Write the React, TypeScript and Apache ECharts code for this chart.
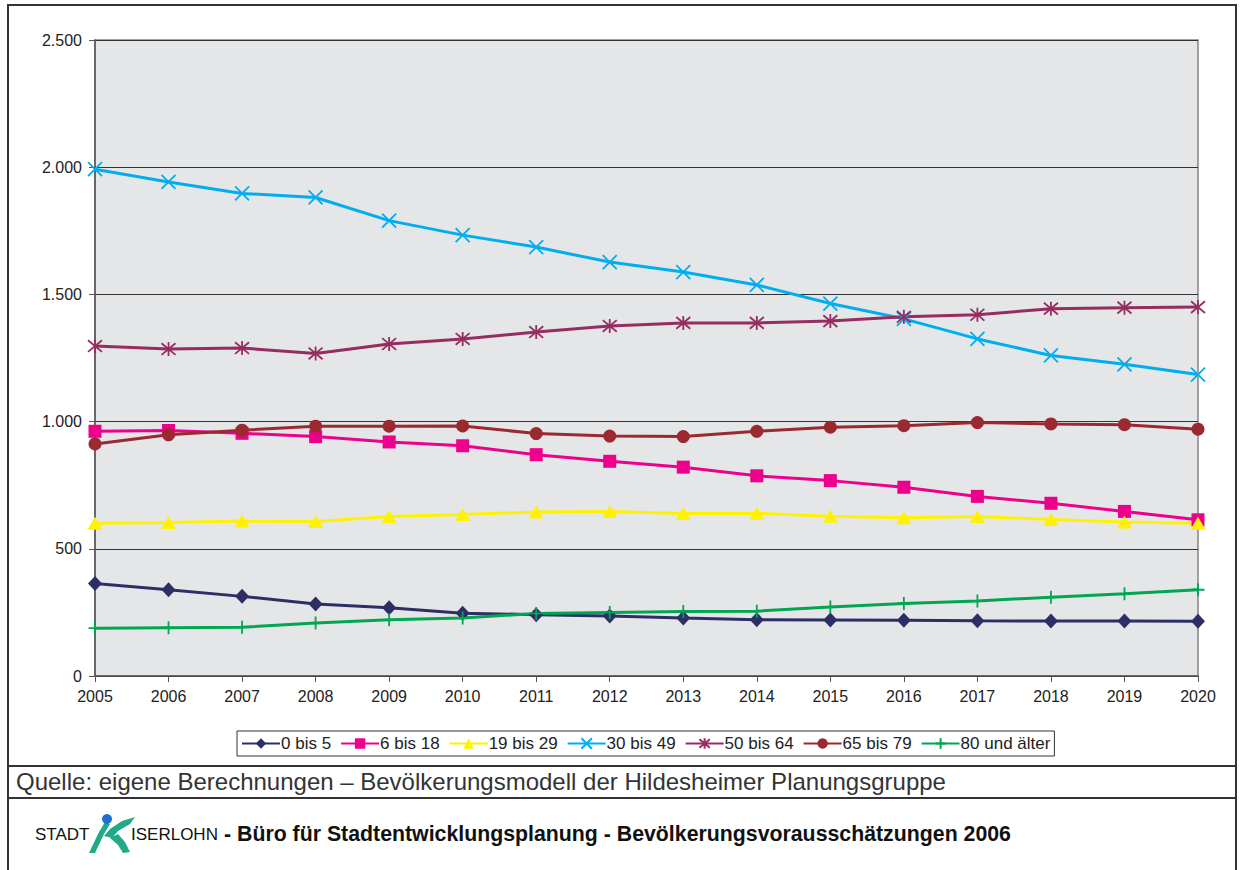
import React, { useEffect, useRef } from "react";
import * as echarts from "echarts";

const years = ["2005","2006","2007","2008","2009","2010","2011","2012","2013","2014","2015","2016","2017","2018","2019","2020"];
const age0to5 = [364, 339, 313, 283, 268, 247, 241, 236, 228, 221, 220, 219, 217, 216, 216, 215];
const age6to18 = [962, 965, 954, 941, 920, 905, 870, 844, 821, 787, 768, 742, 706, 679, 647, 614];
const age19to29 = [600, 603, 609, 607, 627, 635, 645, 647, 639, 640, 628, 622, 627, 615, 605, 600];
const age30to49 = [1992, 1942, 1897, 1881, 1790, 1733, 1686, 1627, 1588, 1537, 1464, 1404, 1325, 1260, 1225, 1185];
const age50to64 = [1297, 1285, 1289, 1268, 1305, 1325, 1352, 1376, 1388, 1388, 1395, 1412, 1420, 1444, 1448, 1450];
const age65to79 = [912, 948, 966, 982, 982, 983, 953, 943, 941, 962, 978, 984, 996, 991, 988, 970];
const age80plus = [188, 190, 192, 208, 221, 228, 246, 250, 254, 255, 271, 285, 295, 310, 323, 339];
const yTicks = [0, 500, 1000, 1500, 2000, 2500];

const seriesNames = ["0 bis 5", "6 bis 18", "19 bis 29", "30 bis 49", "50 bis 64", "65 bis 79", "80 und älter"];

const FONT = "'Liberation Sans', Arial, Helvetica, sans-serif";

const fmt = (v: number) => {
  const s = String(Math.round(v));
  return s.replace(/\B(?=(\d{3})+(?!\d))/g, ".");
};

export default function App() {
  const ref = useRef<HTMLDivElement>(null);
  useEffect(() => {
    if (!ref.current) return;
    const chart = echarts.init(ref.current, null, { renderer: "svg" });

    const mk = (name: string, data: number[], color: string, symbol: string, size: number | number[], stroke = false) => ({
      name,
      type: "line",
      data,
      symbol,
      symbolSize: size,
      showAllSymbol: true,
      lineStyle: { color, width: 3 },
      itemStyle: stroke
        ? { color: "rgba(0,0,0,0)", borderColor: color, borderWidth: 1.8 }
        : { color, borderColor: color, borderWidth: 0 },
      emphasis: { disabled: true },
      z: 3,
    });

    const crossPath = "path://M0,0L10,10M10,0L0,10";
    const starPath = "path://M0,0L10,10M10,0L0,10M5,-1L5,11";
    const plusPath = "path://M5,0L5,10M0,5L10,5";

    chart.setOption({
      animation: false,
      textStyle: { fontFamily: FONT },
      grid: {
        left: 95,
        right: 45,
        top: 40,
        bottom: 194,
        show: true,
        backgroundColor: "#e5e6e8",
        borderColor: "#8c8282",
        borderWidth: 1.5,
      },
      legend: {
        data: seriesNames,
        left: 237,
        top: 731,
        padding: [4, 4, 4, 4],
        itemWidth: 38,
        itemHeight: 13,
        itemGap: 9,
        borderColor: "#333",
        borderWidth: 1,
        textStyle: { fontFamily: FONT, fontSize: 17, color: "#222", padding: [0, 0, 0, -4] },
        selectedMode: false,
      },
      xAxis: {
        type: "category",
        data: years,
        boundaryGap: false,
        axisLine: { lineStyle: { color: "#555", width: 1.5 } },
        axisTick: { show: true, alignWithLabel: true, length: 6, lineStyle: { color: "#555" } },
        axisLabel: { fontFamily: FONT, fontSize: 16, color: "#222", margin: 12 },
        splitLine: { show: false },
      },
      yAxis: {
        type: "value",
        min: 0,
        max: 2500,
        interval: 500,
        axisLine: { show: true, lineStyle: { color: "#555", width: 1.5 } },
        axisTick: { show: true, length: 6, lineStyle: { color: "#555" } },
        axisLabel: {
          fontFamily: FONT,
          fontSize: 16,
          color: "#222",
          margin: 13,
          formatter: (v: number) => (yTicks.includes(v) ? fmt(v) : ""),
        },
        splitLine: { show: true, lineStyle: { color: "#333", width: 1 } },
      },
      series: [
        mk(seriesNames[0], age0to5, "#2e2e66", "diamond", [14, 15]),
        mk(seriesNames[1], age6to18, "#ec008c", "rect", 13),
        mk(seriesNames[2], age19to29, "#fff200", "triangle", [15, 13]),
        mk(seriesNames[3], age30to49, "#00aeef", crossPath, 14, true),
        mk(seriesNames[4], age50to64, "#962d61", starPath, 14, true),
        mk(seriesNames[5], age65to79, "#9b2a30", "circle", 13),
        mk(seriesNames[6], age80plus, "#00a650", plusPath, 13, true),
      ],
      graphic: [
        { type: "rect", shape: { x: 8, y: 5, width: 1228, height: 880 }, style: { fill: "none", stroke: "#333", lineWidth: 2 }, silent: true, z: 0 },
        { type: "line", shape: { x1: 8, y1: 766, x2: 1236, y2: 766 }, style: { stroke: "#333", lineWidth: 2 }, silent: true },
        { type: "line", shape: { x1: 8, y1: 798, x2: 1236, y2: 798 }, style: { stroke: "#333", lineWidth: 2 }, silent: true },
        {
          type: "text",
          left: 16,
          top: 769,
          style: {
            text: "Quelle: eigene Berechnungen – Bevölkerungsmodell der Hildesheimer Planungsgruppe",
            font: "24px " + FONT,
            fill: "#333",
          },
          silent: true,
        },
        {
          type: "text",
          left: 35,
          top: 826,
          style: { text: "STADT", font: "17px " + FONT, fill: "#111" },
          silent: true,
        },
        { type: "polygon", shape: { points: [[89, 853], [95, 853], [104, 834], [110, 824], [105, 822], [99, 832]] }, style: { fill: "#22aa88" }, silent: true },
        { type: "polygon", shape: { points: [[104, 836], [110, 829], [122, 821], [135, 817], [130, 824], [118, 831], [112, 838]] }, style: { fill: "#22aa88" }, silent: true },
        { type: "polygon", shape: { points: [[110, 838], [118, 834], [125, 842], [130, 852], [123, 853], [118, 845]] }, style: { fill: "#22aa88" }, silent: true },
        { type: "circle", shape: { cx: 107, cy: 819, r: 5 }, style: { fill: "#1e6fd0" }, silent: true },
        {
          type: "text",
          left: 131,
          top: 826,
          style: { text: "ISERLOHN", font: "17px " + FONT, fill: "#111" },
          silent: true,
        },
        {
          type: "text",
          left: 224,
          top: 823,
          style: {
            text: "- Büro für Stadtentwicklungsplanung - Bevölkerungsvorausschätzungen 2006",
            font: "bold 21.3px " + FONT,
            fill: "#111",
          },
          silent: true,
        },
      ],
    });
    return () => chart.dispose();
  }, []);
  return (
    <div
      ref={ref}
      style={{ position: "absolute", left: 0, top: 0, width: 1243, height: 870, background: "#fff" }}
    />
  );
}
